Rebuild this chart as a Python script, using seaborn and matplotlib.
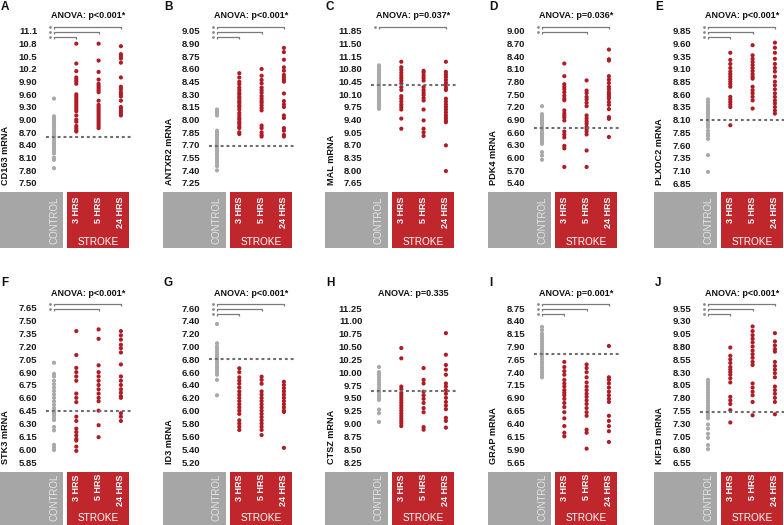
import numpy as np
import pandas as pd
import matplotlib
matplotlib.use("Agg")
import matplotlib.pyplot as plt
from matplotlib.patches import Rectangle
import seaborn as sns

sns.set_theme(style="white")
plt.rcParams["font.family"] = ["Liberation Sans", "DejaVu Sans"]

# ---------------- data ----------------
groups = ["CONTROL", "3 HRS", "5 HRS", "24 HRS"]
letters = list("ABCDEFGHIJ")
genes = ["CD163", "ANTXR2", "MAL", "PDK4", "PLXDC2", "STK3", "ID3", "CTSZ", "GRAP", "KIF1B"]
anova_p = ["p<0.001*", "p<0.001*", "p=0.037*", "p=0.036*", "p<0.001*",
           "p<0.001*", "p<0.001*", "p=0.335", "p=0.001*", "p<0.001*"]
control_ref = [8.59, 7.69, 10.35, 6.70, 8.09, 6.45, 6.80, 9.63, 7.75, 7.52]
sig_targets = [[1, 2, 3], [1, 2, 3], [3], [2, 3], [1, 2, 3],
               [2, 3], [1, 2, 3], [], [1, 2, 3], [1, 2, 3]]
tick_lo = [7.50, 7.25, 7.65, 5.40, 6.85, 5.85, 5.20, 8.25, 5.65, 6.55]
tick_step = [0.30, 0.15, 0.35, 0.30, 0.25, 0.15, 0.20, 0.25, 0.25, 0.25]
tick_labels = [
    ["7.50", "7.80", "8.10", "8.40", "8.70", "9.00", "9.30", "9.60", "9.90", "10.2", "10.5", "10.8", "11.1"],
    ["7.25", "7.40", "7.55", "7.70", "7.85", "8.00", "8.15", "8.30", "8.45", "8.60", "8.75", "8.90", "9.05"],
    ["7.65", "8.00", "8.35", "8.70", "9.05", "9.40", "9.75", "10.10", "10.45", "10.80", "11.15", "11.50", "11.85"],
    ["5.40", "5.70", "6.00", "6.30", "6.60", "6.90", "7.20", "7.50", "7.80", "8.10", "8.40", "8.70", "9.00"],
    ["6.85", "7.10", "7.35", "7.60", "7.85", "8.10", "8.35", "8.60", "8.85", "9.10", "9.35", "9.60", "9.85"],
    ["5.85", "6.00", "6.15", "6.30", "6.45", "6.60", "6.75", "6.90", "7.05", "7.20", "7.35", "7.50", "7.65"],
    ["5.20", "5.40", "5.60", "5.80", "6.00", "6.20", "6.40", "6.60", "6.80", "7.00", "7.20", "7.40", "7.60"],
    ["8.25", "8.50", "8.75", "9.00", "9.25", "9.50", "9.75", "10.00", "10.25", "10.50", "10.75", "11.00", "11.25"],
    ["5.65", "5.90", "6.15", "6.40", "6.65", "6.90", "7.15", "7.40", "7.65", "7.90", "8.15", "8.40", "8.75"],
    ["6.55", "6.80", "7.05", "7.30", "7.55", "7.80", "8.05", "8.30", "8.55", "8.80", "9.05", "9.30", "9.55"],
]

cd163_ctrl = [9.50, 9.08, 9.05, 9.0, 8.95, 8.9, 8.85, 8.8, 8.75, 8.7, 8.68, 8.65, 8.6, 8.57, 8.55, 8.5, 8.45, 8.42, 8.4, 8.35, 8.3, 8.25, 8.2, 8.1, 8.05, 7.85]
cd163_3h = [10.8, 10.33, 10.15, 10.0, 9.95, 9.9, 9.85, 9.6, 9.55, 9.5, 9.45, 9.4, 9.35, 9.3, 9.25, 9.2, 9.1, 9.0, 8.95, 8.85, 8.8, 8.75, 8.72]
cd163_5h = [10.8, 10.4, 10.13, 9.95, 9.85, 9.8, 9.75, 9.7, 9.65, 9.45, 9.35, 9.3, 9.25, 9.2, 9.15, 9.1, 9.05, 9.0, 8.95, 8.9, 8.85, 8.8]
cd163_24h = [10.74, 10.55, 10.5, 10.45, 10.35, 10.0, 9.78, 9.72, 9.65, 9.6, 9.55, 9.45, 9.3, 9.25, 9.2, 9.15, 9.1]

antxr2_ctrl = [8.12, 8.1, 8.08, 8.05, 7.87, 7.85, 7.82, 7.8, 7.78, 7.76, 7.74, 7.72, 7.7, 7.68, 7.66, 7.65, 7.63, 7.6, 7.58, 7.55, 7.52, 7.5, 7.48, 7.45, 7.4]
antxr2_3h = [8.55, 8.5, 8.45, 8.42, 8.38, 8.35, 8.32, 8.3, 8.27, 8.25, 8.22, 8.2, 8.17, 8.15, 8.12, 8.08, 8.05, 8.02, 8.0, 7.97, 7.95, 7.92, 7.9, 7.85, 7.83]
antxr2_5h = [8.6, 8.52, 8.47, 8.43, 8.38, 8.35, 8.32, 8.28, 8.25, 8.22, 8.2, 8.17, 8.14, 8.11, 7.93, 7.9, 7.85, 7.82, 7.8]
antxr2_24h = [8.85, 8.8, 8.71, 8.62, 8.58, 8.53, 8.5, 8.47, 8.45, 8.31, 8.22, 8.18, 8.15, 8.05, 8.02, 7.9, 7.87, 7.82, 7.8]

mal_ctrl = [10.9, 10.85, 10.8, 10.75, 10.7, 10.65, 10.6, 10.55, 10.5, 10.45, 10.4, 10.35, 10.3, 10.25, 10.2, 10.15, 10.1, 10.05, 10.0, 9.95, 9.9, 9.85, 9.8, 9.75, 9.7]
mal_3h = [11.0, 10.85, 10.78, 10.7, 10.62, 10.55, 10.48, 10.4, 10.3, 10.22, 10.05, 9.98, 9.9, 9.82, 9.75, 9.68, 9.43, 9.15]
mal_5h = [10.75, 10.7, 10.62, 10.55, 10.48, 10.3, 10.22, 10.15, 10.08, 10.0, 9.93, 9.68, 9.38, 9.15, 9.05, 8.95]
mal_24h = [11.0, 10.72, 10.65, 10.58, 10.5, 10.42, 10.35, 10.28, 10.22, 9.98, 9.9, 9.82, 9.75, 9.68, 9.6, 9.52, 9.45, 9.38, 9.33, 8.69, 7.98]

pdk4_ctrl = [7.22, 7.03, 6.98, 6.93, 6.88, 6.84, 6.8, 6.76, 6.72, 6.68, 6.64, 6.6, 6.56, 6.52, 6.48, 6.44, 6.4, 6.36, 6.33, 6.13, 6.05, 5.95]
pdk4_3h = [8.23, 7.93, 7.74, 7.68, 7.62, 7.55, 7.47, 7.4, 7.36, 7.12, 7.05, 7.0, 6.95, 6.88, 6.62, 6.55, 6.48, 6.28, 6.22, 5.78]
pdk4_5h = [7.83, 7.59, 7.53, 7.44, 7.38, 7.3, 7.22, 7.0, 6.93, 6.86, 6.8, 6.73, 6.68, 6.62, 6.55, 6.17, 5.78]
pdk4_24h = [8.56, 8.33, 8.3, 7.93, 7.85, 7.77, 7.68, 7.62, 7.55, 7.5, 7.45, 7.4, 7.32, 7.25, 7.15, 6.96, 6.92, 6.49]

plxdc2_ctrl = [8.5, 8.45, 8.4, 8.36, 8.32, 8.28, 8.24, 8.2, 8.15, 8.1, 8.05, 8.0, 7.95, 7.88, 7.82, 7.78, 7.72, 7.4, 7.07]
plxdc2_3h = [9.42, 9.28, 9.2, 9.12, 9.05, 9.0, 8.95, 8.9, 8.85, 8.8, 8.75, 8.55, 8.5, 8.45, 8.4, 8.35, 7.99]
plxdc2_5h = [9.57, 9.37, 9.3, 9.24, 9.18, 9.12, 9.06, 9.0, 8.95, 8.91, 8.75, 8.68, 8.62, 8.55, 8.48, 8.32]
plxdc2_24h = [9.62, 9.52, 9.42, 9.3, 9.2, 9.12, 9.05, 8.95, 8.85, 8.78, 8.7, 8.62, 8.55, 8.48, 8.42, 8.35, 8.28, 8.22]

stk3_ctrl = [7.01, 6.88, 6.85, 6.8, 6.76, 6.72, 6.68, 6.64, 6.6, 6.56, 6.52, 6.48, 6.45, 6.42, 6.4, 6.37, 6.34, 6.26, 6.22, 6.05, 6.02, 5.99]
stk3_3h = [7.38, 7.1, 6.95, 6.9, 6.85, 6.8, 6.65, 6.6, 6.55, 6.38, 6.33, 6.24, 6.2, 6.16, 6.12, 6.1, 6.03, 5.98]
stk3_5h = [7.4, 7.29, 6.98, 6.9, 6.85, 6.8, 6.75, 6.7, 6.65, 6.6, 6.56, 6.45, 6.28, 6.14]
stk3_24h = [7.38, 7.33, 7.28, 7.22, 7.18, 7.13, 6.99, 6.85, 6.8, 6.75, 6.7, 6.66, 6.62, 6.6, 6.42, 6.38, 6.33]

id3_ctrl = [7.35, 7.05, 7.0, 6.96, 6.92, 6.88, 6.84, 6.8, 6.76, 6.72, 6.68, 6.64, 6.6, 6.56, 6.48, 6.24]
id3_3h = [6.66, 6.6, 6.52, 6.47, 6.42, 6.36, 6.3, 6.25, 6.2, 6.15, 6.1, 6.05, 6.0, 5.95, 5.85, 5.8, 5.75, 5.7]
id3_5h = [6.53, 6.48, 6.42, 6.3, 6.25, 6.2, 6.15, 6.1, 6.05, 6.0, 5.95, 5.9, 5.85, 5.8, 5.75, 5.7, 5.62]
id3_24h = [6.45, 6.4, 6.35, 6.3, 6.25, 6.2, 6.15, 6.1, 6.05, 6.0, 5.98, 5.42]

ctsz_ctrl = [10.1, 10.0, 9.95, 9.9, 9.85, 9.8, 9.75, 9.7, 9.65, 9.6, 9.55, 9.5, 9.46, 9.27, 9.2, 9.03]
ctsz_3h = [10.47, 10.27, 9.72, 9.67, 9.6, 9.55, 9.5, 9.45, 9.4, 9.35, 9.3, 9.25, 9.2, 9.15, 9.1, 9.05, 9.0, 8.95]
ctsz_5h = [10.08, 9.85, 9.78, 9.62, 9.55, 9.48, 9.4, 9.3, 9.22, 8.93, 8.88]
ctsz_24h = [10.76, 10.34, 10.14, 10.05, 9.95, 9.78, 9.72, 9.65, 9.58, 9.5, 9.42, 9.35, 9.28, 9.11, 9.05, 8.92]

grap_ctrl = [8.28, 8.22, 8.15, 8.1, 8.05, 8.0, 7.95, 7.9, 7.85, 7.8, 7.75, 7.7, 7.65, 7.6, 7.55, 7.5, 7.45, 7.4, 7.35, 7.3]
grap_3h = [7.6, 7.5, 7.42, 7.35, 7.25, 7.18, 7.12, 7.05, 7.0, 6.95, 6.88, 6.8, 6.72, 6.62, 6.5, 6.35, 6.22, 6.15]
grap_5h = [7.55, 7.48, 7.4, 7.3, 7.2, 7.12, 7.05, 6.98, 6.92, 6.85, 6.78, 6.7, 6.62, 6.55, 6.28, 6.22, 5.91]
grap_24h = [7.91, 7.3, 7.25, 7.18, 7.1, 7.02, 6.95, 6.88, 6.82, 6.55, 6.45, 6.35, 6.25, 6.04]

kif1b_ctrl = [8.15, 8.1, 8.05, 8.0, 7.95, 7.9, 7.85, 7.8, 7.75, 7.7, 7.65, 7.6, 7.55, 7.5, 7.45, 7.4, 7.28, 7.2, 7.1, 7.02, 6.88, 6.8]
kif1b_3h = [8.78, 8.62, 8.55, 8.48, 8.4, 8.35, 8.3, 8.25, 8.18, 8.1, 7.82, 7.75, 7.68, 7.56, 7.32]
kif1b_5h = [9.19, 9.1, 9.02, 8.95, 8.88, 8.8, 8.72, 8.65, 8.58, 8.5, 8.44, 8.08, 8.0, 7.92, 7.85, 7.72, 7.46]
kif1b_24h = [9.06, 8.9, 8.82, 8.75, 8.7, 8.5, 8.42, 8.35, 8.28, 8.2, 8.02, 7.95, 7.88, 7.8, 7.72, 7.48]

panel_values = [
    [cd163_ctrl, cd163_3h, cd163_5h, cd163_24h],
    [antxr2_ctrl, antxr2_3h, antxr2_5h, antxr2_24h],
    [mal_ctrl, mal_3h, mal_5h, mal_24h],
    [pdk4_ctrl, pdk4_3h, pdk4_5h, pdk4_24h],
    [plxdc2_ctrl, plxdc2_3h, plxdc2_5h, plxdc2_24h],
    [stk3_ctrl, stk3_3h, stk3_5h, stk3_24h],
    [id3_ctrl, id3_3h, id3_5h, id3_24h],
    [ctsz_ctrl, ctsz_3h, ctsz_5h, ctsz_24h],
    [grap_ctrl, grap_3h, grap_5h, grap_24h],
    [kif1b_ctrl, kif1b_3h, kif1b_5h, kif1b_24h],
]

# ---------------- style / layout ----------------
GRAY_DOT = "#a9a9a9"
RED_DOT = "#b01c25"
GRAY_BOX = "#a6a6a6"
RED_BOX = "#c0272d"
LINE = "#6e6e6e"
palette = {"CONTROL": GRAY_DOT, "3 HRS": RED_DOT, "5 HRS": RED_DOT, "24 HRS": RED_DOT}

W, H = 784, 525
fig = plt.figure(figsize=(W / 100, H / 100), dpi=100)
ctrl_px = [54, 217, 379, 542, 708]
unit = 22.3
rows = [
    dict(top_tick=31, bot_tick=183, box_top=192, box_bot=248, letter_y=7, anova_y=15, txt_off=5, strk=50),
    dict(top_tick=308, bot_tick=462, box_top=472, box_bot=528, letter_y=283, anova_y=293, txt_off=2, strk=46),
]
br_offsets = [0.30, -0.10, -0.48]


def add_px_axes(l, t, r, b):
    return fig.add_axes([l / W, 1 - b / H, (r - l) / W, (b - t) / H])


for i in range(10):
    row = rows[i // 5]
    cx = ctrl_px[i % 5]
    step = tick_step[i]
    pos = tick_lo[i] + step * np.arange(13)
    ppv = (row["bot_tick"] - row["top_tick"]) / (pos[-1] - pos[0])
    ax_top = row["top_tick"] - 12
    ax_bot = row["bot_tick"] + 6
    ax = add_px_axes(cx - 0.7 * unit, ax_top, cx + 3.6 * unit, ax_bot)

    vals = panel_values[i]
    df = pd.DataFrame({
        "group": np.repeat(groups, [len(v) for v in vals]),
        "value": np.concatenate(vals),
    })
    sns.stripplot(data=df, x="group", y="value", hue="group", order=groups,
                  palette=palette, jitter=False, size=3.0, linewidth=0,
                  legend=False, ax=ax)
    ax.set_xlim(-0.7, 3.6)
    ax.set_ylim(pos[0] - 6 / ppv, pos[-1] + 12 / ppv)
    ax.set_xlabel("")
    ax.set_ylabel("")
    ax.set_xticks([])
    ax.set_yticks(pos)
    ax.set_yticklabels(tick_labels[i], fontsize=6.8, fontweight="bold", color="#1a1a1a")
    ax.tick_params(axis="y", length=0, pad=0.8)
    for s in ax.spines.values():
        s.set_visible(False)
    ax.patch.set_alpha(0)

    # control reference line
    ax.hlines(control_ref[i], -0.38, 3.45, colors=LINE, linewidth=1.5,
              linestyles=(0, (1.4, 1.4)), zorder=5)

    # significance brackets
    h = 1.6 / ppv
    for j, tgt in enumerate(sorted(sig_targets[i], reverse=True)):
        lev = pos[-1] + br_offsets[j] * step
        ax.plot([0, 0, tgt, tgt], [lev - h, lev, lev, lev - h], color="#7a7a7a",
                lw=0.9, clip_on=False, solid_capstyle="butt")
        ax.plot([-0.2], [lev], "o", ms=2.0, color="#8a8a8a", mec="none", clip_on=False)

    # texts
    fig.text((cx - 53) / W, 1 - row["letter_y"] / H, letters[i], ha="left", va="center",
             fontsize=8.5, fontweight="bold", color="#111111")
    fig.text((cx + 34) / W, 1 - row["anova_y"] / H, "ANOVA: " + anova_p[i], ha="center",
             va="center", fontsize=6.5, fontweight="bold", color="#111111")
    fig.text((cx - 48) / W, 1 - (row["bot_tick"] + 2) / H, genes[i] + " mRNA", rotation=90,
             ha="center", va="bottom", fontsize=6.6, fontweight="bold", color="#111111")

    # category boxes
    bx = add_px_axes(cx - 54, row["box_top"], cx + 76, row["box_bot"])
    bx.set_xlim(-54, 76)
    bx.set_ylim(row["box_bot"] - row["box_top"], 0)
    bx.axis("off")
    bh = row["box_bot"] - row["box_top"]
    bx.add_patch(Rectangle((-54, 0), 63, bh, color=GRAY_BOX, lw=0))
    bx.add_patch(Rectangle((13, 0), 62, bh, color=RED_BOX, lw=0))
    bx.text(0, row["txt_off"], groups[0], rotation=90, ha="center", va="top",
            fontsize=7, color="#e4e4e4")
    for k in range(1, 4):
        bx.text(k * unit, row["txt_off"], groups[k], rotation=90, ha="center", va="top",
                fontsize=6.5, fontweight="bold", color="white")
    bx.text(44, row["strk"], "STROKE", ha="center", va="center", fontsize=7.2, color="white")

fig.savefig("out.png", dpi=100)
